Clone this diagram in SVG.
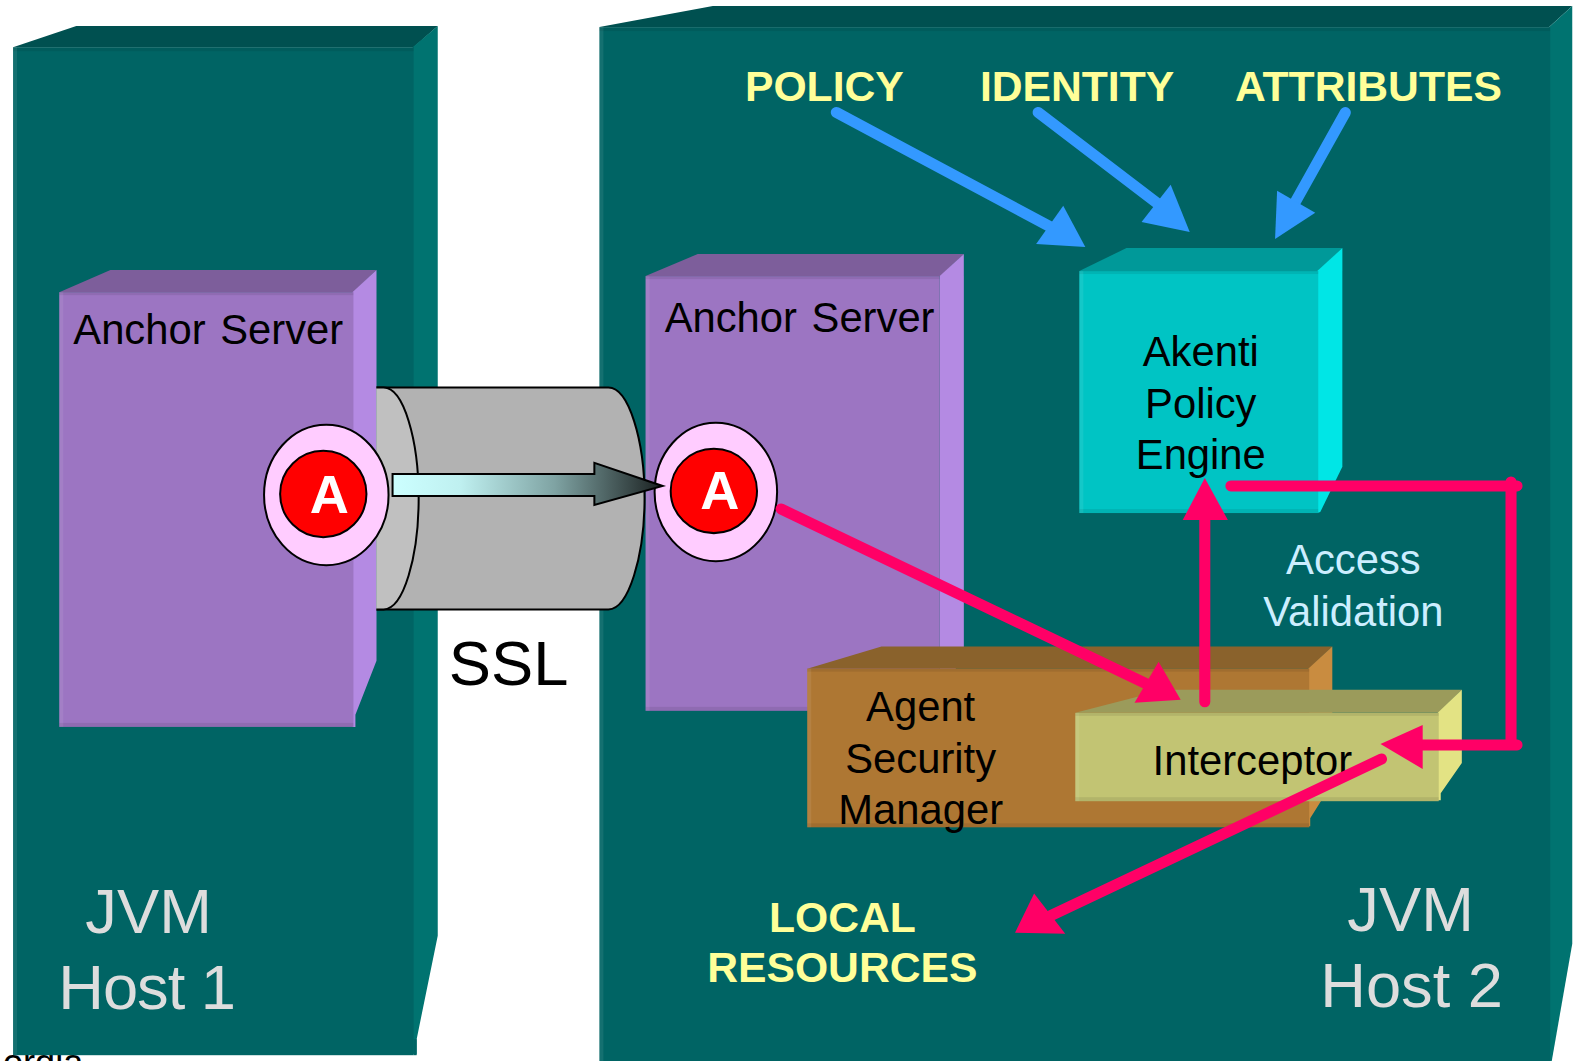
<svg xmlns="http://www.w3.org/2000/svg" width="1574" height="1061" viewBox="0 0 1574 1061">
<style>
text{font-family:"Liberation Sans",Arial,sans-serif;font-size:41.6px;fill:#000}
.m{text-anchor:middle}
.y{font-weight:bold;fill:#FFFF99;font-size:42.5px}
.h{font-size:63px;fill:#DDDDDD}
.v{fill:#CCEEFF}
.a{font-weight:bold;font-size:54px;fill:#fff;text-anchor:middle}
.tf{fill:#006464}.tt{fill:#005050}.ts{fill:#007370}
.pf{fill:#9C75C2}.pt{fill:#7D5E9B}.ps{fill:#B48AE3}
.ln{stroke-linecap:round;fill:none;stroke-width:11}
.b{stroke:#3399FF}.bh{fill:#3399FF}
.r{stroke:#FF0066}.rh{fill:#FF0066}
.o{stroke:#000;stroke-width:2}
.bl{fill:#fff;opacity:.08}
.bd{fill:#000;opacity:.08}
</style>
<defs>
<linearGradient id="g" x1="0" x2="1" y1="0" y2="0"><stop offset="0" stop-color="#CCFFFF"/><stop offset=".25" stop-color="#BFF0F0"/><stop offset=".6" stop-color="#7FA3A3"/><stop offset="1" stop-color="#1A2020"/></linearGradient>
</defs>
<rect width="1574" height="1061" fill="#fff"/>
<g transform="scale(1.004)">
<text x="3" y="1071" style="font-size:36px">ordia</text>
<g id="host1">
<polygon class="tt" points="13,47 76,26 436,26 412,47"/>
<polygon class="ts" points="411,47 436,26 436,932 415,1035 415,1050 411,1050"/>
<rect class="tf" x="13" y="47" width="399" height="1004"/>
<rect class="bd" x="13" y="47" width="399" height="4"/><rect class="bl" x="13" y="47" width="4" height="1004"/><rect class="tf" x="412" y="1035" width="3" height="16"/>
<text class="h" x="85" y="929">JVM</text><text class="h" x="58" y="1005" textLength="177">Host 1</text>
</g>
<g id="host2">
<polygon class="tt" points="597,27 710,6 1566,6 1543,27"/>
<polygon class="ts" points="1543,27 1566,6 1566,940 1545,1060 1543,1060"/>
<rect class="tf" x="597" y="27" width="947" height="1034"/>
<rect class="bd" x="597" y="27" width="947" height="4"/><rect class="bl" x="597" y="27" width="4" height="1034"/>
<text class="h" x="1342" y="927">JVM</text><text class="h" x="1315" y="1003">Host 2</text>
</g>
<g id="labels-top">
<text class="y" x="742" y="101">POLICY</text>
<text class="y" x="976" y="101">IDENTITY</text>
<text class="y" x="1230" y="101">ATTRIBUTES</text>
</g>
<g id="anchor1">
<polygon class="pt" points="59,291 110,269 375,269 352,291"/>
<polygon class="ps" points="351,291 375,269 375,658 354,712 354,724 351,724"/>
<rect class="pf" x="59" y="291" width="293" height="433"/>
<rect class="bd" x="59" y="291" width="293" height="3"/><rect class="bd" x="59" y="720" width="293" height="4"/><rect class="bl" x="59" y="291" width="4" height="433"/>
<text x="73" y="343" word-spacing="3">Anchor Server</text>
</g>
<g id="anchor2">
<polygon class="pt" points="643,275 695,253 960,253 937,275"/>
<polygon class="ps" points="936,275 960,253 960,645 936,708"/>
<rect class="pf" x="643" y="275" width="293" height="433"/>
<rect class="bd" x="643" y="275" width="293" height="3"/><rect class="bd" x="643" y="704" width="293" height="4"/><rect class="bl" x="643" y="275" width="4" height="433"/>
<text x="662" y="331" word-spacing="3">Anchor Server</text>
</g>
<g id="ssl-tunnel">
<path d="M375,386H606C626,386 642,438 642,496C642,554 626,607 606,607H375" fill="#B2B2B2" class="o"/>
<path d="M375,386H382C402,386 417,438 417,496C417,554 402,607 382,607H375" fill="#C0C0C0" class="o"/>
<text x="447" y="682" style="font-size:63px">SSL</text>
</g>
<g id="akenti">
<polygon fill="#009999" points="1075,270 1122,247 1337,247 1313,270"/>
<polygon fill="#00E6E6" points="1312,270 1337,247 1337,465 1315,510 1312,511"/>
<rect fill="#00C4C4" x="1075" y="270" width="238" height="241"/>
<rect class="bd" x="1075" y="270" width="238" height="3"/><rect class="bd" x="1075" y="507" width="238" height="4"/><rect class="bl" x="1075" y="270" width="4" height="241"/>
<text class="m" x="1196" y="365">Akenti</text><text class="m" x="1196" y="416">Policy</text><text class="m" x="1196" y="467">Engine</text>
</g>
<text class="v m" x="1348" y="572">Access</text><text class="v m" x="1348" y="624">Validation</text>
<g id="agent">
<polygon fill="#8A622C" points="804,666 878,644 1327,644 1304,666"/>
<polygon fill="#C98C40" points="1303,666 1327,644 1327,780 1305,815 1305,823 1303,823"/>
<rect fill="#AE7733" x="804" y="666" width="500" height="158"/>
<rect class="bd" x="804" y="666" width="500" height="3"/><rect class="bd" x="804" y="820" width="500" height="4"/><rect class="bl" x="804" y="666" width="4" height="158"/>
<text class="m" x="917" y="718">Agent</text><text class="m" x="917" y="770">Security</text><text class="m" x="917" y="821">Manager</text>
</g>
<g id="interceptor">
<polygon fill="#9B9B5B" points="1071,710 1160,687 1456,687 1433,710"/>
<polygon fill="#E3E384" points="1432,710 1456,687 1456,760 1435,790 1435,797 1432,797"/>
<rect fill="#C2C473" x="1071" y="710" width="362" height="88"/>
<rect class="bd" x="1071" y="710" width="362" height="3"/><rect class="bd" x="1071" y="794" width="362" height="4"/><rect class="bl" x="1071" y="710" width="4" height="88"/>
<text x="1148" y="772">Interceptor</text>
</g>
<g id="badge1">
<ellipse cx="325" cy="493" rx="62" ry="70" fill="#FFCCFF" class="o"/>
<ellipse cx="322" cy="492" rx="43" ry="43" fill="#FF0000" class="o"/>
<text class="a" x="328" y="511">A</text>
</g>
<g id="badge2">
<ellipse cx="713" cy="490" rx="61" ry="69" fill="#FFCCFF" class="o"/>
<ellipse cx="711" cy="489" rx="43" ry="42" fill="#FF0000" class="o"/>
<text class="a" x="717" y="507">A</text>
</g>
<text class="y m" x="839" y="928">LOCAL</text><text class="y m" x="839" y="978">RESOURCES</text>
<g id="connectors">
<polygon points="391,472 592,472 592,461 660,484 592,503 592,494 391,494" fill="url(#g)" class="o"/>
<path class="ln b" d="M833,112L1050,228"/><polygon class="bh" points="1081,246 1059,205 1032,243"/>
<path class="ln b" d="M1034,112L1160,208"/><polygon class="bh" points="1185,231 1166,184 1137,221"/>
<path class="ln b" d="M1340,112L1288,205"/><polygon class="bh" points="1270,238 1272,190 1310,212"/>
<path class="ln r" d="M778,507L1150,685"/><polygon class="rh" points="1176,697 1154,659 1130,700"/>
<path class="ln r" d="M1200,699V515"/><polygon class="rh" points="1200,476 1178,518 1223,518"/>
<path class="ln r" d="M1226,484H1511M1505,480V742M1511,742H1410"/><polygon class="rh" points="1375,741 1417,722 1417,766"/>
<path class="ln r" d="M1376,756L1040,915"/><polygon class="rh" points="1011,929 1030,890 1061,930"/>
</g>
</g>
</svg>
